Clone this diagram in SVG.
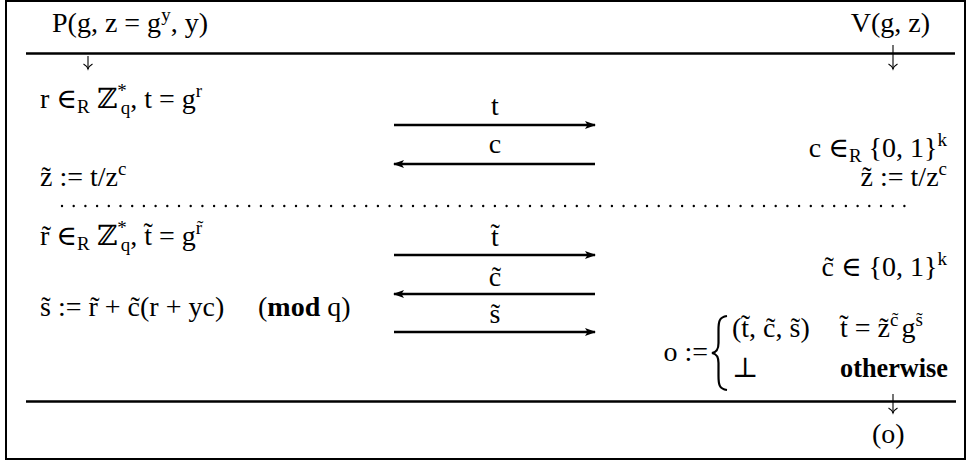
<svg xmlns="http://www.w3.org/2000/svg" width="967" height="461" viewBox="0 0 967 461">
<style>
text{font-family:"Liberation Serif","DejaVu Serif",serif;font-size:28px;fill:#000}
.s{font-size:19px}
.b{font-weight:bold}
.m{text-anchor:middle}
.e{text-anchor:end}
.rule{stroke:#000;stroke-width:2.5;fill:none}
.msg{stroke:#000;stroke-width:2.5;fill:none}
.dn{stroke:#000;stroke-width:1.1;fill:none}
.dots{stroke:#000;stroke-width:2.4;stroke-linecap:round;stroke-dasharray:0 11.7;fill:none}
</style>
<defs>
<marker id="ah" viewBox="0 0 11 8" refX="10" refY="4" markerWidth="11" markerHeight="8" markerUnits="userSpaceOnUse" orient="auto"><path d="M0,0 L11,4 L0,8 L2.5,4 Z" fill="#000"/></marker>
<path id="dhead" d="M-4.5,-5 Q-1,-3 0,0 Q1,-3 4.5,-5" class="dn"/>
</defs>
<rect x="6" y="1" width="959" height="458" fill="#fff" stroke="#000" stroke-width="2"/>
<g id="frame">
<line class="rule" x1="26" y1="53.5" x2="955" y2="53.5"/>
<line class="rule" x1="26" y1="401.5" x2="956" y2="401.5"/>
<line class="dots" x1="62" y1="206" x2="915" y2="206"/>
</g>
<g id="prover">
<text x="52" y="32">P(g, z = g<tspan class="s" dy="-11">y</tspan><tspan dy="11">, y)</tspan></text>
<line class="dn" x1="88" y1="56" x2="88" y2="69"/>
<use href="#dhead" x="88" y="69"/>
<text x="40" y="108">r ∈<tspan class="s" dy="5">R</tspan><tspan dy="-5"> ℤ</tspan><tspan class="s" dy="-11">*</tspan><tspan class="s" dx="-6" dy="17">q</tspan><tspan dy="-6">, t = g</tspan><tspan class="s" dy="-11">r</tspan></text>
<text x="40" y="186">z&#x303; := t/z<tspan class="s" dy="-11">c</tspan></text>
<text x="40" y="245">r&#x303; ∈<tspan class="s" dy="5">R</tspan><tspan dy="-5"> ℤ</tspan><tspan class="s" dy="-11">*</tspan><tspan class="s" dx="-6" dy="17">q</tspan><tspan dy="-6">, t&#x303; = g</tspan><tspan class="s" dy="-11">r&#x303;</tspan></text>
<text x="40" y="316">s&#x303; := r&#x303; + c&#x303;(r + yc)<tspan x="258">(</tspan><tspan class="b">mod</tspan> q)</text>
</g>
<g id="verifier">
<text class="e" x="930" y="32">V(g, z)</text>
<line class="dn" x1="893" y1="45" x2="893" y2="69"/>
<use href="#dhead" x="893" y="69"/>
<text class="e" x="947" y="157">c ∈<tspan class="s" dy="5">R</tspan><tspan dy="-5"> {0, 1}</tspan><tspan class="s" dy="-11">k</tspan></text>
<text class="e" x="947" y="186">z&#x303; := t/z<tspan class="s" dy="-11">c</tspan></text>
<text class="e" x="947" y="276">c&#x303; ∈ {0, 1}<tspan class="s" dy="-11">k</tspan></text>
<text class="e" x="708" y="361">o :=</text>
<path d="M727,316 C719,317 718.5,322 718.5,330 L718.5,343 C718.5,349 717,352 712,353 C717,354 718.5,357 718.5,363 L718.5,376 C718.5,384 719,389 727,390" stroke="#000" stroke-width="2.2" fill="none"/>
<text x="732" y="337">(t&#x303;, c&#x303;, s&#x303;)</text>
<text x="840" y="337">t&#x303; = z&#x303;<tspan class="s" dy="-11">c&#x303;</tspan><tspan dx="3" dy="11">g</tspan><tspan class="s" dy="-11">s&#x303;</tspan></text>
<text x="732" y="377">⊥</text>
<text class="b" x="840" y="377" textLength="108" lengthAdjust="spacingAndGlyphs">otherwise</text>
<line class="dn" x1="893" y1="394" x2="893" y2="413"/>
<use href="#dhead" x="893" y="413"/>
<text x="872" y="443">(o)</text>
</g>
<g id="connectors">
<line class="msg" x1="394" y1="125" x2="595" y2="125" marker-end="url(#ah)"/>
<text class="m" x="495" y="115">t</text>
<line class="msg" x1="595" y1="164" x2="394" y2="164" marker-end="url(#ah)"/>
<text class="m" x="495" y="153">c</text>
<line class="msg" x1="394" y1="255" x2="595" y2="255" marker-end="url(#ah)"/>
<text class="m" x="495" y="246">t&#x303;</text>
<line class="msg" x1="595" y1="294" x2="394" y2="294" marker-end="url(#ah)"/>
<text class="m" x="495" y="286">c&#x303;</text>
<line class="msg" x1="394" y1="332" x2="595" y2="332" marker-end="url(#ah)"/>
<text class="m" x="495" y="323">s&#x303;</text>
</g>
</svg>
